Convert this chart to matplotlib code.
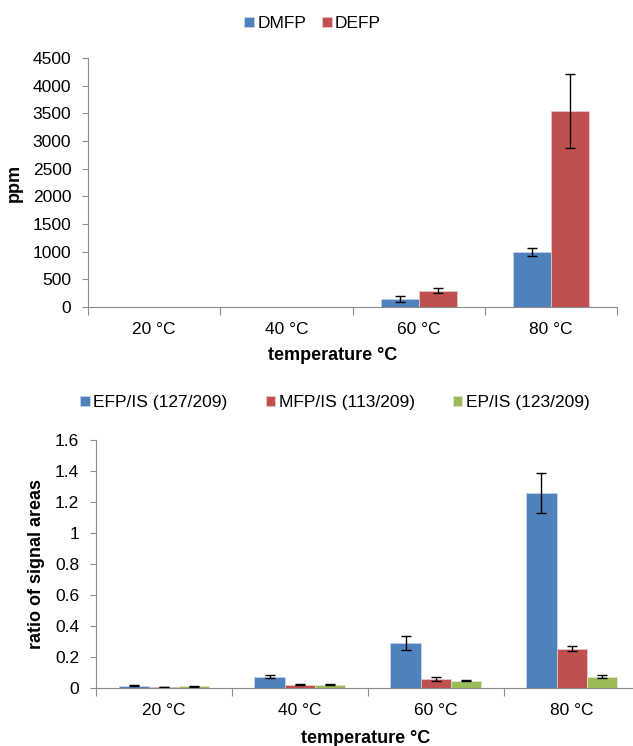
import numpy as np
from matplotlib import pyplot as plt

plt.rcParams['font.family'] = ['Liberation Sans', 'DejaVu Sans']

categories = ['20 °C', '40 °C', '60 °C', '80 °C']

# top chart (ppm)
dmfp = [0, 0, 145, 995]
dmfp_err = [0, 0, 50, 75]
defp = [0, 0, 295, 3540]
defp_err = [0, 0, 45, 665]

# bottom chart (ratio of signal areas)
efp = [0.016, 0.073, 0.288, 1.26]
efp_err = [0.003, 0.01, 0.045, 0.13]
mfp = [0.007, 0.022, 0.06, 0.255]
mfp_err = [0.002, 0.003, 0.012, 0.017]
ep = [0.011, 0.022, 0.048, 0.073]
ep_err = [0.002, 0.003, 0.002, 0.011]

blue = '#4F81BD'
red = '#C0504D'
green = '#9BBB59'
axcol = '#8C8C8C'
fs = 12.5


def style_axis(ax, ymax, ystep, fmt, xlab_pos):
    ax.set_xlim(-0.5, len(categories) - 0.5)
    ax.set_ylim(0, ymax)
    yt = np.arange(0, ymax + ystep / 2, ystep)
    ax.set_yticks(yt)
    ax.set_yticklabels([fmt(v) for v in yt])
    for s in ['top', 'right']:
        ax.spines[s].set_visible(False)
    for s in ['left', 'bottom']:
        ax.spines[s].set_color(axcol)
    # tick marks between categories, labels at the centres
    ax.set_xticks(np.arange(-0.5, len(categories)))
    ax.set_xticklabels([])
    ax.set_xticks(np.arange(len(categories)), minor=True)
    ax.set_xticklabels(categories, minor=True, fontsize=fs)
    ax.tick_params(axis='x', which='major', direction='out', length=6, color=axcol)
    ax.tick_params(axis='x', which='minor', length=0, pad=11)
    ax.tick_params(axis='y', direction='out', length=4, color=axcol, labelsize=fs, pad=8)
    ax.set_xlabel('temperature °C', fontsize=13, fontweight='bold')
    ax.xaxis.label.set_va('center')
    ax.xaxis.set_label_coords(*xlab_pos)


def add_errors(ax, xs, vals, errs):
    idx = [i for i in range(len(vals)) if errs[i] > 0]
    ax.errorbar([xs[i] for i in idx], [vals[i] for i in idx], yerr=[errs[i] for i in idx],
                fmt='none', ecolor='black', elinewidth=1, capsize=3.5, capthick=1)


fig = plt.figure(figsize=(6.33, 7.46), dpi=100)
x = np.arange(len(categories))

# top chart
ax1 = fig.add_axes([0.139, 0.5885, 0.836, 0.3338])
w1 = 0.287
b1 = ax1.bar(x - w1 / 2, dmfp, w1, color=blue, edgecolor='#C6D5EA', linewidth=0.6, label='DMFP')
b2 = ax1.bar(x + w1 / 2, defp, w1, color=red, edgecolor='#EBC6C5', linewidth=0.6, label='DEFP')
add_errors(ax1, x - w1 / 2, dmfp, dmfp_err)
add_errors(ax1, x + w1 / 2, defp, defp_err)
style_axis(ax1, 4500, 500, lambda v: f'{v:.0f}', (0.463, -0.193))
ax1.set_ylabel('ppm', fontsize=13, fontweight='bold')
ax1.yaxis.set_label_coords(-0.123, 0.5)
fig.legend(handles=[b1, b2], loc='center', bbox_to_anchor=(0.494, 0.968), ncol=2, frameon=False,
           fontsize=fs, handlelength=0.55, handleheight=0.55, handletextpad=0.2, columnspacing=0.9)

# bottom chart
ax2 = fig.add_axes([0.1517, 0.0777, 0.859, 0.3324])
w2 = 0.223
c1 = ax2.bar(x - w2, efp, w2, color=blue, edgecolor='#C6D5EA', linewidth=0.6, label='EFP/IS (127/209)')
c2 = ax2.bar(x, mfp, w2, color=red, edgecolor='#EBC6C5', linewidth=0.6, label='MFP/IS (113/209)')
c3 = ax2.bar(x + w2, ep, w2, color=green, edgecolor='#DCE8C8', linewidth=0.6, label='EP/IS (123/209)')
add_errors(ax2, x - w2, efp, efp_err)
add_errors(ax2, x, mfp, mfp_err)
add_errors(ax2, x + w2, ep, ep_err)
style_axis(ax2, 1.6, 0.2, lambda v: '0' if v == 0 else ('1' if abs(v - 1) < 1e-9 else f'{v:.1f}'),
           (0.496, -0.2016))
ax2.set_ylabel('ratio of signal areas', fontsize=13, fontweight='bold')
ax2.yaxis.set_label_coords(-0.094, 0.5)
fig.legend(handles=[c1, c2, c3], loc='center', bbox_to_anchor=(0.529, 0.46), ncol=3, frameon=False,
           fontsize=fs, handlelength=0.55, handleheight=0.55, handletextpad=0.2, columnspacing=2.2)

fig.savefig('out.png', dpi=100)
